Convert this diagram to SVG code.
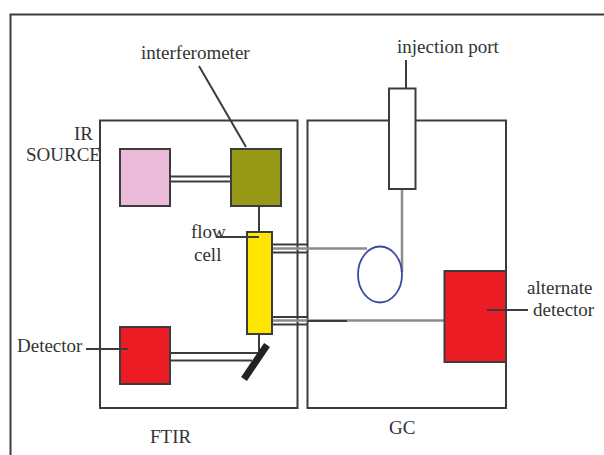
<svg xmlns="http://www.w3.org/2000/svg" width="604" height="455" viewBox="0 0 604 455">
<style>
text{font-family:"Liberation Serif","Times New Roman",serif;font-size:19px;fill:#333}
.box{fill:none;stroke:#3c3c3c;stroke-width:2}
.n{stroke:#3c3c3c;stroke-width:2}
.l{fill:none;stroke:#3c3c3c;stroke-width:2}
.t{fill:none;stroke:#3c3c3c;stroke-width:1.800}
.g{fill:none;stroke:#8c8c8c;stroke-width:2.500}
</style>
<rect width="604" height="455" fill="#fff"/>
<path class="l" d="M10.500 455V14.500H604"/>
<g id="ftir"><rect class="box" x="100" y="120.500" width="197.500" height="287.500"/><text x="150" y="443">FTIR</text></g>
<g id="gc"><rect class="box" x="307.500" y="120.500" width="198.500" height="287.500"/><text x="389" y="434">GC</text></g>
<g id="connectors">
<path class="l" d="M170 176.500H231M170 181.500H231M259 206V232M170 353H259M170 360.500H252M259 334V352M199 66 246 147M406 60V88"/>
<path class="t" d="M272 244.500H307M272 252.500H307M272 317H307M272 324.500H307"/>
<path class="g" d="M272 248.500H367M402 190V272M272 320.500H444"/>
<path class="l" d="M307 321H347"/>
<path d="M244 379 267 345" fill="none" stroke="#222" stroke-width="7"/>
</g>
<g id="ir-source"><rect class="n" x="120" y="149" width="50" height="57" fill="#e9bbd9"/><text x="74" y="140">IR</text><text x="26" y="161">SOURCE</text></g>
<g id="interferometer"><rect class="n" x="231" y="149" width="50" height="57" fill="#979a17"/><text x="141" y="59">interferometer</text></g>
<g id="flow-cell"><rect class="n" x="247" y="232" width="25" height="102" fill="#ffe600"/><text x="191" y="238">flow</text><text x="194" y="261">cell</text><path class="l" d="M216 237H259"/></g>
<g id="detector"><rect class="n" x="120" y="327" width="50" height="57" fill="#ed1c24"/><text x="17" y="352">Detector</text><path class="l" d="M86 349H128"/></g>
<g id="loop"><ellipse cx="380" cy="274.500" rx="22" ry="28" fill="none" stroke="#3b4a9f" stroke-width="1.800"/></g>
<g id="injection-port"><rect class="n" x="389" y="88.500" width="26.500" height="100.500" fill="#fff"/><text x="397" y="53">injection port</text></g>
<g id="alternate-detector"><rect class="n" x="444.500" y="271" width="61.500" height="91" fill="#ed1c24"/><text x="527" y="294">alternate</text><text x="533" y="316">detector</text><path class="l" d="M487 310H528"/></g>
</svg>
